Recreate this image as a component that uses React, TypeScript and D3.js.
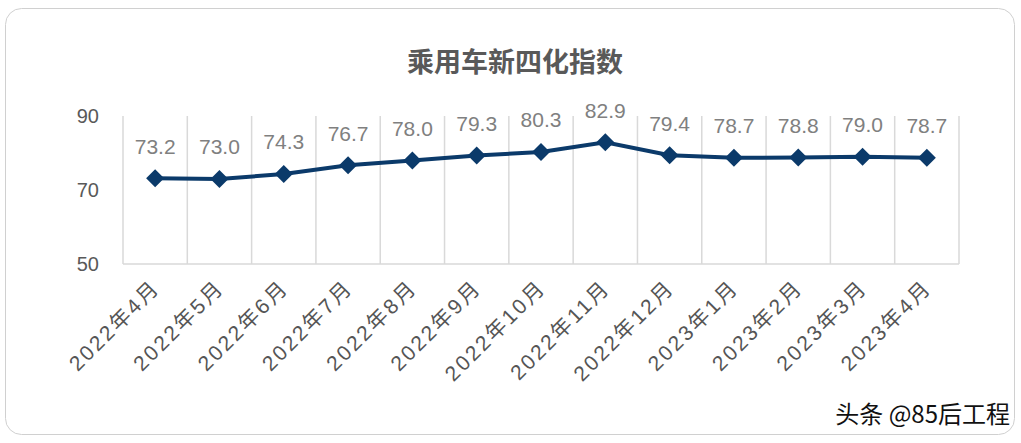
import React from "react";
import * as d3 from "d3";

const categories = ["2022年4月","2022年5月","2022年6月","2022年7月","2022年8月","2022年9月","2022年10月","2022年11月","2022年12月","2023年1月","2023年2月","2023年3月","2023年4月"];
const values = [73.2,73.0,74.3,76.7,78.0,79.3,80.3,82.9,79.4,78.7,78.8,79.0,78.7];
const yTicks = [50,70,90];
const title = "乘用车新四化指数";
const watermark = "头条 @85后工程";

export default function App() {
  const W = 1021, H = 443;
  const x = d3.scaleBand<string>().domain(categories).range([123, 959]);
  const y = d3.scaleLinear().domain([50, 90]).range([264, 116]);
  const line = d3.line<number>().x((_, i) => x(categories[i])! + x.bandwidth() / 2).y(d => y(d));
  const font = "'Liberation Sans', Arial, 'Noto Sans CJK SC', sans-serif";
  const bounds = [...categories.map(c => x(c)!), 959];
  return (
    <svg width={W} height={H} style={{ position: "absolute", left: 0, top: 0 }} fontFamily={font}>
      <rect x={0} y={0} width={W} height={H} fill="#fff" />
      <rect x={5.5} y={8.5} width={1009} height={426} rx={16} fill="#fff" stroke="#d0d0d0" />
      <text x={515} y={63} dy="0.35em" textAnchor="middle" fontSize={27} fontWeight="bold" fill="#595959" fontFamily="'Noto Sans CJK SC', sans-serif">{title}</text>
      {bounds.map((b, i) => (
        <line key={i} x1={b} x2={b} y1={116} y2={264} stroke="#d9d9d9" strokeWidth={1.5} />
      ))}
      <line x1={123} x2={959} y1={264} y2={264} stroke="#d9d9d9" strokeWidth={1.5} />
      {yTicks.map(t => (
        <text key={t} x={99} y={y(t)} dy="0.35em" textAnchor="end" fontSize={20} fill="#595959">{t}</text>
      ))}
      <path d={line(values) || ""} fill="none" stroke="#0b3a6a" strokeWidth={4} />
      {values.map((v, i) => {
        const cx = x(categories[i])! + x.bandwidth() / 2, cy = y(v);
        return (
          <g key={i}>
            <path d={`M${cx},${cy - 9}L${cx + 9},${cy}L${cx},${cy + 9}L${cx - 9},${cy}Z`} fill="#0b3a6a" />
            <text x={cx} y={cy - 32} dy="0.35em" textAnchor="middle" fontSize={21} fill="#808080">{v.toFixed(1)}</text>
          </g>
        );
      })}
      {categories.map((c, i) => {
        const cx = x(c)! + x.bandwidth() / 2 + 6;
        return (
          <text key={c} transform={`translate(${cx},${289}) rotate(-45)`} textAnchor="end" fontSize={21} letterSpacing={2.5} fill="#555">{c}</text>
        );
      })}
      <text x={1010} y={415} dy="0.35em" textAnchor="end" fontSize={24} fill="#111" fontFamily="'Noto Sans CJK SC', sans-serif">{watermark}</text>
    </svg>
  );
}
